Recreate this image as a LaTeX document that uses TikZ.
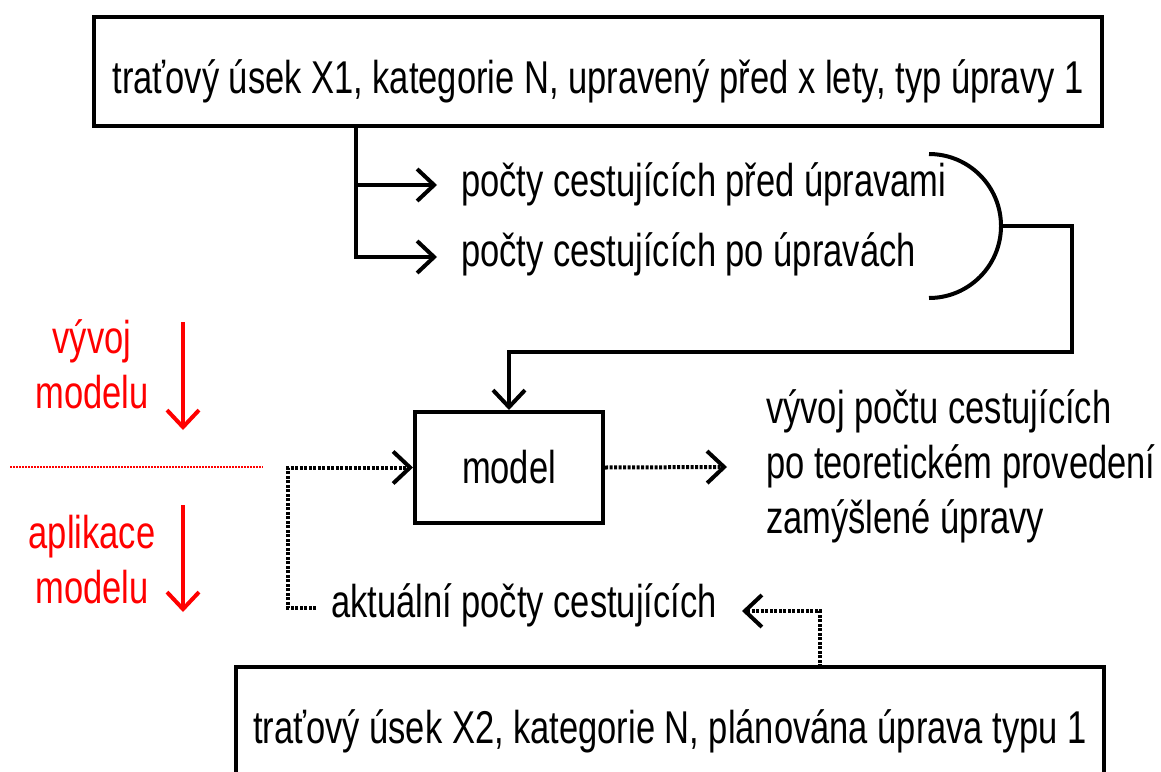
\documentclass[tikz,border=0pt]{standalone}
\usepackage{fontspec}
\setmainfont{Liberation Sans}[FakeStretch=0.75]
\usetikzlibrary{arrows.meta,calc}
\definecolor{lred}{RGB}{255,0,0}
\tikzset{
  box/.style={draw, line width=4pt, inner sep=0pt},
  lbl/.style={inner sep=0pt, font=\fontsize{46}{55}\selectfont},
  arr/.style={-{Straight Barb[length=17pt,width=32pt]}},
  wire/.style={line width=4pt, line join=miter},
  dot/.style={dash pattern=on 3pt off 1.5pt},
}
\begin{document}
\begin{tikzpicture}[x=1pt,y=-1pt]
\useasboundingbox (0,0) rectangle (1161,771);
\clip (0,0) rectangle (1161,771);

% input section box
\node[box, minimum width=1008pt, minimum height=109pt] (top) at (598,71.5) {};
\node[lbl, anchor=base] (toptext) at (598,93)
  {traťový úsek X1, kategorie N, upravený před x lety, typ úpravy 1};

% measured passenger counts
\node[lbl, anchor=base west] (pre) at (461,196) {počty cestujících před úpravami};
\node[lbl, anchor=base west] (post) at (461,266) {počty cestujících po úpravách};
\coordinate (split) at (356,126);
\coordinate (preend) at (437,185);
\coordinate (postend) at (437,257);
\draw[wire, arr] (split) |- (postend);
\draw[wire, arr] (split |- preend) -- (preend);

% bracket joining both counts
\coordinate (arcstart) at (929,154);
\draw[wire] (arcstart) arc[start angle=-90, end angle=90, radius=72];
\coordinate (join) at (1001,226);

% model
\node[box, minimum width=188pt, minimum height=111pt] (model) at (509,467.5) {};
\node[lbl, anchor=base] (modeltext) at (509,483) {model};
\coordinate (route) at (1072,352);
\draw[wire, arr] (join) -| (route) -| (model.north);

% prediction (base anchor sits on the last line)
\node[lbl, anchor=base west, align=left] (res) at (766,533)
  {vývoj počtu cestujících\\po teoretickém provedení\\zamýšlené úpravy};
\coordinate (resin) at (727,467);
\draw[wire, dot, arr] (model.east) -- (resin);

% application section
\node[lbl, anchor=base west] (akt) at (331,617) {aktuální počty cestujících};
\coordinate (aktout) at (316,608);
\draw[wire, dot, arr] (aktout) -| ($(model.west)+(-125,0)$) -- (model.west);

\node[box, minimum width=868pt, minimum height=120pt] (bot) at (670,727) {};
\node[lbl, anchor=base] (bottext) at (670,743)
  {traťový úsek X2, kategorie N, plánována úprava typu 1};
\coordinate (up) at (820,667);
\coordinate (aktin) at (742,611);
\draw[wire, dot, arr] (up) |- (aktin);

% phase markers
\node[lbl, text=lred, anchor=base, align=center] (dev) at (92,408) {vývoj\\modelu};
\node[lbl, text=lred, anchor=base, align=center] (app) at (92,603) {aplikace\\modelu};
\coordinate (d1) at (183,322);
\coordinate (d2) at (183,430);
\coordinate (a1) at (183,505);
\coordinate (a2) at (183,612);
\draw[wire, lred, arr] (d1) -- (d2);
\draw[wire, lred, arr] (a1) -- (a2);
\coordinate (s1) at (10,467);
\coordinate (s2) at (263,467);
\draw[lred, line width=2.5pt, dash pattern=on 2pt off 1pt] (s1) -- (s2);
\end{tikzpicture}
\end{document}
